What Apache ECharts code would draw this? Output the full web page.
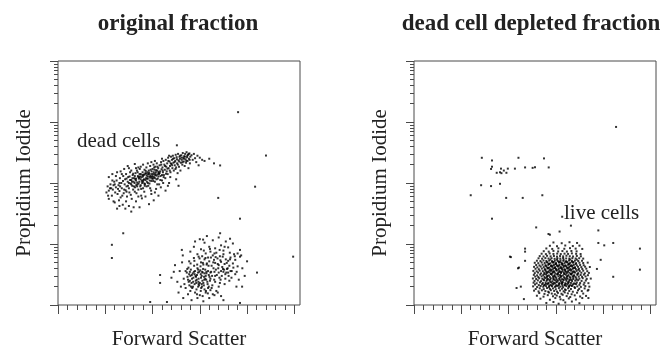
<!DOCTYPE html>
<html><head><meta charset="utf-8">
<script src="https://cdn.jsdelivr.net/npm/echarts@6/dist/echarts.min.js"></script>
<style>html,body{margin:0;padding:0;background:#fff}#c{width:669px;height:347px}</style>
</head><body><div id="c"></div>
<script>
// ---- text ----
const panelTitles = ['original fraction', 'dead cell depleted fraction'];
const xAxisTitle = 'Forward Scatter';
const yAxisTitle = 'Propidium Iodide';
const clusterLabels = ['dead cells', 'live cells'];

// ---- axes ----
const xRange = [0, 1024];
const yRange = [1, 10000];
const xMajorTicks = [0, 200, 400, 600, 800, 1000];
const xMinorTicks = [40,80,120,160,240,280,320,360,440,480,520,560,640,680,720,760,840,880,920,960];
const yMajorTicks = [1, 10, 100, 1000, 10000];
const yMinorTicks = [2,3,4,5,6,7,8,9,20,30,40,50,60,70,80,90,200,300,400,500,600,700,800,900,2000,3000,4000,5000,6000,7000,8000,9000];

// ---- original fraction: dead cell cluster [FSC, PI] ----
const origDead = [
[205,70],[210,88],[215,55],[222,95],[228,62],[232,78],[238,105],[240,48],[212,62],
[245,85],[248,110],[252,66],[256,92],[260,74],[262,120],[265,58],[268,100],[270,82],[274,44],[276,130],[278,68],[250,38],[258,52],
[282,95],[284,115],[286,76],[288,140],[290,88],[292,60],[295,105],[297,125],[300,82],[302,70],[305,150],[307,98],[310,112],[312,55],[314,90],[316,135],[318,78],[300,42],[310,34],[288,50],
[322,120],[324,100],[326,85],[328,145],[330,110],[332,68],[334,160],[336,95],[338,130],[340,78],[342,118],[344,105],[346,170],[348,88],[350,140],[352,62],[354,125],[356,100],[358,150],[360,82],[330,50],[345,40],[355,56],[325,72],
[362,135],[364,115],[366,165],[368,96],[370,145],[372,120],[374,180],[376,105],[378,150],[380,128],[382,90],[384,160],[386,140],[388,110],[390,190],[392,130],[394,75],[396,155],[398,118],[400,170],[370,60],[385,45],[395,66],[375,88],
[402,140],[404,200],[406,125],[408,165],[410,105],[412,185],[414,150],[416,132],[418,210],[420,160],[422,118],[424,175],[426,145],[428,95],[430,195],[432,155],[434,130],[436,220],[438,168],[440,110],[415,80],[425,62],[435,85],[405,52],
[442,180],[444,150],[446,230],[448,135],[450,200],[452,165],[454,120],[456,240],[458,185],[460,155],[462,210],[464,140],[466,260],[468,175],[470,100],[472,225],[474,190],[476,150],[478,270],[480,205],[455,75],[465,90],[475,125],
[482,240],[484,175],[486,280],[488,215],[490,160],[492,255],[494,195],[496,230],[498,290],[500,180],[502,265],[504,210],[506,145],[508,300],[510,235],[512,185],[514,270],[516,250],[518,160],[520,215],[500,115],[510,90],
[522,285],[524,240],[526,200],[528,310],[530,260],[532,225],[534,275],[536,190],[538,300],[540,245],[542,215],[544,320],[546,265],[548,230],[550,290],[552,175],[554,250],[556,305],[558,210],[560,270],
[565,285],[570,240],[575,300],[580,255],[585,220],[590,280],[600,260],[610,240],[620,230],[595,195],[640,250],[660,210],
[300,100],[305,112],[310,95],[315,120],[320,105],[325,130],[330,118],[335,102],[340,125],[345,140],[350,115],[355,108],[360,128],[365,138],[370,112],[375,132],[380,118],[385,148],[390,122],[395,140],[400,130],[405,150],[410,142],[415,162],[420,138],[425,152],[430,145],[335,88],[350,92],[365,98],[380,100],[395,108],[410,120],[425,128],[440,135],[360,105],[345,122],[372,142],[388,128],[402,118],
[290,72],[296,90],[303,128],[308,64],[313,105],[318,142],[321,88],[327,115],[331,92],[337,150],[341,98],[347,128],[352,80],[357,135],[361,112],[367,90],[371,158],[377,118],[381,140],[387,98],[392,165],[397,125],[403,108],[407,180],[411,135],[417,115],[421,185],[427,140],[433,112],[437,200],[443,160],[447,125],[453,190],[457,142],[463,172],[467,230],[473,160],[477,210],[483,195],[487,250],[493,220],[497,170],[503,245],[507,200],[513,225],[517,280],[523,260],[527,220],[533,250],[537,270],[543,230],[547,280],[553,300],[557,240],
[215,75],[225,82],[235,92],[242,70],[254,80],[263,88],[272,62],[280,78],[235,50],[260,42],[285,38],[320,40],[340,60],[365,72],[390,82],[410,70],[420,95],[445,100],[260,100],[275,108],[290,118],[240,95],[230,110],[220,82],
[330,175],[350,185],[380,210],[410,230],[440,250],[470,280],[360,200],[395,220],
[265,155],[280,170],[295,190],[310,160],[325,205],[340,180],[215,125],[230,140],[250,150],[245,130],[270,140],[300,175]
];

// ---- original fraction: live cell cluster ----
const origLive = [
[545,3.4],[550,2.6],[552,4.1],[556,2.1],[560,3.0],[562,3.8],[565,2.3],[568,1.9],[570,3.3],[573,2.8],[576,4.4],[578,2.2],[580,3.6],[583,2.5],[586,1.8],[588,3.1],[590,4.0],[593,2.0],[595,2.7],[598,3.5],[600,2.3],[603,4.3],[606,1.9],[608,3.0],[611,2.5],[614,3.9],[617,2.1],[620,3.3],[623,2.7],[626,1.7],[629,4.6],[632,2.4],[635,3.6],[638,2.0],[641,2.9],
[555,3.2],[567,2.7],[582,3.0],[597,2.1],[612,3.4],[627,2.6],[572,2.4],[587,2.6],[602,3.7],[618,2.9],[548,2.9],[563,2.0],[578,3.2],[593,3.8],[608,2.2],[623,3.8],[638,3.1],
[605,5.0],[610,6.3],[615,4.6],[620,5.6],[625,7.0],[630,4.8],[635,6.0],[640,5.2],[645,7.5],[650,4.4],[655,6.5],[660,5.5],[665,4.9],[670,7.2],[675,5.8],[680,4.5],[685,6.3],[690,5.1],[695,4.2],[700,6.8],[705,4.7],[710,5.6],[715,3.9],[720,5.3],[725,4.4],[730,6.0],[740,4.8],[750,5.5],[760,4.3],[735,3.6],[712,3.4],[690,3.6],[668,3.8],[648,3.5],[658,4.0],[678,4.0],[698,3.9],[718,4.0],
[540,3.6],[558,3.5],[575,3.5],[592,3.4],[610,3.5],[628,3.5],[645,3.4],[662,3.5],[680,3.4],[700,3.5],[720,3.4],
[560,7.5],[575,9.0],[590,6.8],[605,8.2],[620,10.5],[640,9.0],[655,11.5],[665,8.5],[680,12.8],[690,9.5],[700,7.8],[720,8.8],[740,10.2],[760,7.0],[600,12.0],[580,11.0],[630,13.5],[710,11.0],[770,8.0],[745,6.8],
[510,1.6],[530,1.3],[550,1.5],[565,1.2],[580,1.6],[590,1.3],[600,1.45],[615,1.15],[625,1.6],[640,1.3],[655,1.5],[670,1.7],[690,1.4],[700,1.2],[560,1.7],[620,1.8],[645,1.75],[520,2.0],[540,1.9],[680,2.0],
[480,2.8],[495,4.5],[505,2.4],[515,3.6],[525,5.0],[535,2.2],[490,3.5],[528,6.5],
[750,3.2],[765,2.6],[780,4.0],[800,5.2],[790,3.0],[755,2.0],[775,6.5],
[532,2.7],[547,3.9],[553,2.4],[561,4.8],[566,3.1],[571,2.0],[577,5.3],[584,2.9],[589,4.6],[594,2.4],[599,5.8],[604,3.2],[609,2.0],[613,4.9],[619,2.6],[624,5.9],[628,3.3],[633,2.2],[637,4.4],[643,2.5],[647,6.0],[652,3.0],[657,5.0],[661,2.6],[667,6.1],[672,3.1],[676,4.7],[683,2.8],[687,5.4],[693,3.0],[697,6.2],[703,3.8],[708,2.7],[714,4.9],[722,3.0],[728,5.6],[734,2.8],[742,4.1],[748,6.3],[756,3.5],
[588,1.5],[604,1.7],[612,1.4],[634,1.55],[650,1.9],[662,1.45],[676,1.6],[595,2.2],[615,2.3],[635,1.9],[653,2.1],[665,2.4],[685,2.3],[705,2.2],[725,2.5],[558,2.5],[585,2.3],[605,2.8],[625,3.0],[645,2.7],[665,3.0],[688,2.6],[708,3.2],[730,3.6],[617,7.8],[643,8.3],[662,7.0],[684,8.0],[705,9.0],[727,7.2],[595,6.2],[575,5.9],[555,5.2]
];

// ---- original fraction: scattered events ----
const origOther = [
[762,1450],[880,282],[834,87],[770,26],[678,57],[686,194],[503,415],[995,6.2],[228,9.7],[228,5.9],[276,15],[842,3.4],[770,1.08],[390,1.12],[461,1.12],[686,15],[728,12.2],[770,6.2],[779,2.0],[432,3.1],[432,2.3],[524,8.0],[614,11.8]
];

// ---- depleted fraction: remaining dead cells ----
const deplDead = [
[287,259],[330,234],[442,259],[550,253],[570,180],[330,185],[326,170],[350,147],[364,150],[370,145],[368,172],[380,160],[391,147],[397,172],[427,172],[470,180],[502,177],[512,182],[284,92],[326,89],[364,97],[240,63],[390,57],[460,57],[543,63],[330,26]
];

// ---- depleted fraction: live cell cluster ----
const deplLive = [
[560,1.08],[590,1.12],[612,1.05],[640,1.1],[668,1.14],[700,1.07],
[535,1.27],[575,1.22],[598,1.3],[620,1.24],[632,1.2],[655,1.28],[685,1.23],[712,1.3],
[520,1.42],[548,1.37],[566,1.45],[588,1.39],[604,1.43],[617,1.36],[629,1.47],[646,1.4],[661,1.35],[680,1.44],[703,1.38],[728,1.41],
[530,1.57],[552,1.52],[571,1.6],[583,1.54],[596,1.5],[609,1.58],[624,1.53],[638,1.61],[651,1.55],[667,1.5],[690,1.59],[716,1.54],
[508,1.72],[527,1.67],[541,1.74],[556,1.69],[568,1.65],[579,1.75],[593,1.7],[605,1.66],[618,1.73],[633,1.68],[642,1.76],[657,1.7],[672,1.65],[694,1.74],[710,1.69],[735,1.72],
[515,1.83],[532,1.88],[549,1.82],[563,1.9],[575,1.84],[588,1.87],[600,1.81],[613,1.89],[626,1.85],[639,1.8],[652,1.88],[664,1.83],[681,1.9],[699,1.84],[722,1.87],
[504,2.02],[521,1.97],[536,2.05],[547,1.99],[559,2.04],[571,1.96],[584,2.03],[596,1.98],[607,2.06],[619,2.0],[631,1.95],[645,2.04],[656,1.99],[668,2.05],[679,1.97],[691,2.02],[706,1.98],[725,2.04],[742,2.0],
[512,2.17],[528,2.12],[542,2.19],[553,2.14],[565,2.2],[577,2.13],[590,2.18],[602,2.11],[614,2.16],[626,2.21],[637,2.13],[649,2.18],[661,2.12],[673,2.17],[686,2.2],[700,2.14],[718,2.16],
[506,2.32],[519,2.27],[533,2.35],[545,2.29],[557,2.33],[569,2.26],[581,2.34],[592,2.3],[604,2.36],[616,2.28],[628,2.33],[640,2.27],[652,2.35],[664,2.3],[676,2.26],[689,2.34],[703,2.29],[721,2.32],[738,2.28],
[510,2.48],[524,2.53],[538,2.46],[550,2.55],[561,2.49],[573,2.52],[586,2.45],[597,2.54],[609,2.5],[621,2.47],[633,2.56],[645,2.49],[657,2.53],[669,2.46],[682,2.51],[695,2.55],[709,2.48],[727,2.52],
[503,2.72],[517,2.67],[530,2.74],[543,2.69],[555,2.76],[567,2.66],[579,2.73],[590,2.68],[602,2.75],[614,2.7],[626,2.65],[638,2.74],[650,2.69],[662,2.77],[674,2.67],[687,2.72],[700,2.7],[714,2.75],[731,2.68],[748,2.71],
[513,2.92],[526,2.87],[540,2.95],[552,2.89],[563,2.94],[575,2.86],[588,2.93],[599,2.88],[611,2.96],[623,2.9],[635,2.85],[647,2.94],[659,2.89],[671,2.95],[684,2.87],[697,2.92],[711,2.9],[726,2.94],
[507,3.12],[521,3.06],[534,3.15],[547,3.09],[559,3.17],[571,3.05],[583,3.13],[595,3.08],[606,3.16],[618,3.1],[630,3.04],[642,3.14],[654,3.09],[666,3.16],[678,3.07],[691,3.12],[705,3.1],[719,3.15],[736,3.08],
[511,3.33],[525,3.4],[538,3.3],[551,3.38],[562,3.32],[574,3.41],[586,3.35],[598,3.29],[610,3.39],[622,3.34],[634,3.42],[646,3.31],[658,3.37],[670,3.3],[682,3.4],[695,3.33],[708,3.38],[723,3.31],[740,3.36],
[505,3.62],[519,3.56],[532,3.65],[545,3.59],[557,3.67],[569,3.55],[580,3.63],[592,3.58],[604,3.66],[616,3.6],[628,3.54],[640,3.64],[652,3.59],[664,3.67],[676,3.57],[688,3.62],[701,3.6],[716,3.65],[733,3.58],
[514,3.92],[528,3.86],[541,3.95],[553,3.88],[565,3.97],[577,3.85],[589,3.93],[601,3.89],[613,3.96],[625,3.9],[637,3.84],[649,3.94],[661,3.88],[673,3.96],[685,3.87],[698,3.92],[712,3.9],[729,3.94],
[508,4.22],[522,4.15],[536,4.26],[549,4.18],[561,4.24],[573,4.13],[585,4.21],[597,4.17],[609,4.27],[621,4.2],[633,4.14],[645,4.25],[657,4.19],[669,4.28],[681,4.16],[694,4.23],[708,4.18],[724,4.25],[744,4.2],
[517,4.53],[531,4.46],[544,4.57],[556,4.49],[568,4.55],[580,4.44],[592,4.52],[604,4.47],[616,4.58],[628,4.5],[640,4.45],[652,4.56],[664,4.48],[676,4.54],[689,4.46],[703,4.52],[718,4.49],
[511,4.92],[526,4.85],[540,4.97],[553,4.88],[565,4.95],[577,4.83],[589,4.93],[601,4.87],[613,4.98],[625,4.9],[637,4.84],[649,4.96],[661,4.89],[673,4.94],[686,4.86],[700,4.92],[716,4.88],[735,4.95],
[520,5.32],[535,5.25],[548,5.37],[560,5.28],[572,5.35],[584,5.23],[596,5.33],[608,5.27],[620,5.38],[632,5.3],[644,5.24],[656,5.36],[668,5.29],[681,5.34],[695,5.26],[711,5.31],
[527,5.83],[542,5.74],[556,5.88],[569,5.78],[582,5.85],[595,5.72],[607,5.82],[619,5.77],[631,5.9],[644,5.8],[657,5.75],[670,5.86],[684,5.79],[699,5.84],[716,5.76],
[532,6.33],[548,6.24],[563,6.4],[578,6.28],[592,6.36],[605,6.22],[618,6.34],[631,6.27],[645,6.42],[659,6.3],[673,6.25],[689,6.37],[706,6.29],
[540,6.93],[558,6.82],[574,7.0],[590,6.87],[606,6.96],[621,6.84],[637,6.95],[652,6.88],[668,7.02],[686,6.9],[705,6.85],
[549,7.62],[570,7.5],[590,7.7],[610,7.55],[628,7.66],[647,7.52],[666,7.68],[688,7.58],
[560,8.45],[585,8.3],[611,8.5],[636,8.35],[660,8.55],[684,8.4],[712,8.3],
[575,9.35],[605,9.2],[640,9.45],[672,9.25],[700,9.4],
[590,10.6],[625,10.3],[658,10.7],[690,10.4],
[563,2.6],[577,2.4],[591,2.62],[603,2.42],[617,2.6],[629,2.38],[643,2.63],[655,2.4],[667,2.58],
[565,3.0],[580,3.22],[594,2.98],[608,3.22],[622,3.0],[636,3.24],[650,2.98],[664,3.22],[676,3.0],
[560,3.48],[574,3.72],[588,3.5],[602,3.75],[615,3.47],[629,3.76],[643,3.5],[657,3.74],[671,3.48],
[566,4.05],[580,4.35],[594,4.06],[607,4.38],[620,4.04],[634,4.36],[648,4.07],[662,4.35],[675,4.05],
[571,4.72],[585,5.1],[599,4.7],[613,5.12],[627,4.72],[641,5.1],[655,4.74],[668,5.12],
[558,2.22],[572,2.05],[586,2.24],[600,2.02],[614,2.25],[628,2.07],[642,2.23],[656,2.04],
[550,2.1],[568,2.28],[582,2.09],[597,2.27],[611,2.08],[625,2.3],[639,2.1],[653,2.26],[667,2.09],[681,2.24],
[548,2.62],[562,2.8],[576,2.61],[590,2.82],[604,2.6],[618,2.83],[632,2.62],[646,2.8],[660,2.6],[674,2.82],[688,2.6],
[552,3.22],[566,3.45],[580,3.24],[594,3.46],[608,3.23],[622,3.47],[636,3.25],[650,3.44],[664,3.24],[678,3.46],[692,3.22],
[555,3.78],[569,4.02],[583,3.78],[597,4.04],[611,3.8],[625,4.03],[639,3.78],[653,4.02],[667,3.8],[681,4.04],[695,3.79],
[558,4.4],[572,4.7],[586,4.4],[600,4.72],[614,4.42],[628,4.7],[642,4.4],[656,4.68],[670,4.41],[684,4.7],
[562,5.05],[577,5.55],[591,5.07],[605,5.56],[619,5.06],[633,5.54],[647,5.08],[661,5.57],[675,5.06],[689,5.55]
];

// ---- depleted fraction: scattered events ----
const deplOther = [
[855,830],[627,28],[517,18.7],[569,14.6],[616,16],[664,20],[780,16.7],[780,10.4],[805,9.5],[843,10.4],[956,8.4],[956,3.8],[843,2.9],[410,6.1],[444,4.1],[470,7.5],[470,8.4],[470,5.3],[434,1.9],[452,2.0],[465,1.25],[790,5.5],[774,3.9],[738,1.77],[738,1.3],[406,6.2],[440,4.0],[575,14.2]
];

const chart = echarts.init(document.getElementById('c'), null, {renderer: 'canvas'});
const AX = '#4a4a4a';
const SERIF = '"Liberation Serif","Times New Roman",serif';
const grids = [
  {left: 58, top: 61, width: 242, height: 244},
  {left: 414, top: 61, width: 242, height: 244}
];
function xAx(g, ticks, len) {
  return {gridIndex: g, type: 'value', position: 'bottom', min: xRange[0], max: xRange[1],
    axisLine: {show: false}, splitLine: {show: false}, axisLabel: {show: false},
    axisTick: {show: true, inside: false, length: len, customValues: ticks, lineStyle: {color: AX, width: 1}}};
}
function yAx(g, ticks, len) {
  return {gridIndex: g, type: 'log', position: 'left', logBase: 10, min: yRange[0], max: yRange[1],
    axisLine: {show: false}, splitLine: {show: false}, axisLabel: {show: false},
    axisTick: {show: true, inside: false, length: len, customValues: ticks, lineStyle: {color: AX, width: 1}}};
}
const dot = {symbol: 'rect', symbolSize: 2, itemStyle: {color: '#000'}, silent: true, animation: false};
function sc(data, g) {
  return Object.assign({type: 'scatter', xAxisIndex: g * 2, yAxisIndex: g * 2, data: data}, dot);
}
const option = {
  animation: false,
  grid: grids.map(g => Object.assign({show: true, borderColor: AX, borderWidth: 1, backgroundColor: 'transparent'}, g)),
  xAxis: [xAx(0, xMajorTicks, 9), xAx(0, xMinorTicks, 5), xAx(1, xMajorTicks, 9), xAx(1, xMinorTicks, 5)],
  yAxis: [yAx(0, yMajorTicks, 8), yAx(0, yMinorTicks, 4), yAx(1, yMajorTicks, 8), yAx(1, yMinorTicks, 4)],
  series: [sc(origDead, 0), sc(origLive, 0), sc(origOther, 0), sc(deplDead, 1), sc(deplLive, 1), sc(deplOther, 1)],
  graphic: [
    {type: 'text', x: 178, y: 24, style: {text: panelTitles[0], font: 'bold 23px ' + SERIF, fill: '#222', align: 'center', verticalAlign: 'middle'}},
    {type: 'text', x: 531, y: 24, style: {text: panelTitles[1], font: 'bold 23px ' + SERIF, fill: '#222', align: 'center', verticalAlign: 'middle'}},
    {type: 'text', x: 179, y: 339, style: {text: xAxisTitle, font: '21px ' + SERIF, fill: '#222', align: 'center', verticalAlign: 'middle'}},
    {type: 'text', x: 535, y: 339, style: {text: xAxisTitle, font: '21px ' + SERIF, fill: '#222', align: 'center', verticalAlign: 'middle'}},
    {type: 'text', x: 24, y: 183, rotation: Math.PI / 2, style: {text: yAxisTitle, font: '21px ' + SERIF, fill: '#222', align: 'center', verticalAlign: 'middle'}},
    {type: 'text', x: 380, y: 183, rotation: Math.PI / 2, style: {text: yAxisTitle, font: '21px ' + SERIF, fill: '#222', align: 'center', verticalAlign: 'middle'}},
    {type: 'text', x: 77, y: 141, style: {text: clusterLabels[0], font: '21px ' + SERIF, fill: '#222', align: 'left', verticalAlign: 'middle'}},
    {type: 'text', x: 564, y: 213, style: {text: clusterLabels[1], font: '21px ' + SERIF, fill: '#222', align: 'left', verticalAlign: 'middle'}}
  ]
};
chart.setOption(option);
</script>
</body></html>
